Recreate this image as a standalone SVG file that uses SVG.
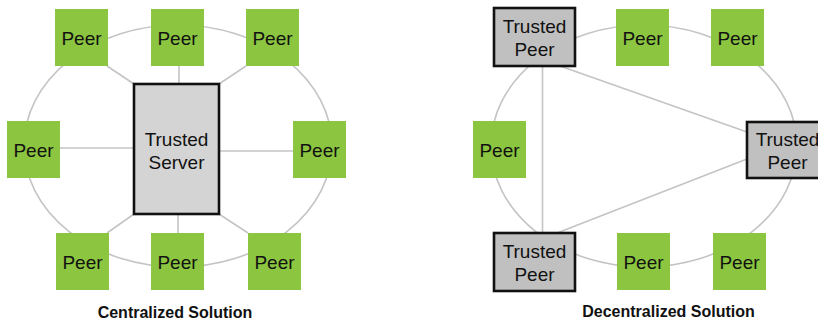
<svg xmlns="http://www.w3.org/2000/svg" width="818" height="320" viewBox="0 0 818 320">
  <style>
    .ring { fill: none; stroke: #c4c4c4; stroke-width: 1.6; }
    .link { stroke: #c4c4c4; stroke-width: 1.6; fill: none; }
    .peer rect { fill: #8cc540; }
    .trusted rect { stroke: #111; stroke-width: 2.6; }
    .server rect { fill: #d4d4d4; }
    .tpeer rect { fill: #c0c0c0; }
    text { font-family: "Liberation Sans", Arial, sans-serif; font-size: 19px; fill: #111; text-anchor: middle; }
    .title { font-size: 16px; font-weight: bold; }
  </style>
  <rect width="818" height="320" fill="#fff"/>

  <!-- Centralized: connectors -->
  <g id="central-links">
    <ellipse class="ring" cx="178" cy="146" rx="154" ry="121"/>
    <line class="link" x1="107" y1="66" x2="134" y2="84"/>
    <line class="link" x1="179" y1="66" x2="179" y2="84"/>
    <line class="link" x1="246" y1="66" x2="219" y2="84"/>
    <line class="link" x1="60" y1="148" x2="134" y2="148"/>
    <line class="link" x1="219" y1="151" x2="293" y2="151"/>
    <line class="link" x1="107" y1="233" x2="134" y2="214"/>
    <line class="link" x1="178" y1="214" x2="178" y2="233"/>
    <line class="link" x1="219" y1="214" x2="248" y2="233"/>
  </g>

  <!-- Centralized: nodes -->
  <g id="c-peer-1" class="peer"><rect x="55" y="9" width="53" height="57"/><text x="81.5" y="44.5">Peer</text></g>
  <g id="c-peer-2" class="peer"><rect x="151" y="9" width="53" height="57"/><text x="177.5" y="44.5">Peer</text></g>
  <g id="c-peer-3" class="peer"><rect x="246" y="9" width="53" height="57"/><text x="272.5" y="44.5">Peer</text></g>
  <g id="c-peer-4" class="peer"><rect x="7" y="121" width="53" height="57"/><text x="33.5" y="156.5">Peer</text></g>
  <g id="c-peer-5" class="peer"><rect x="293" y="121" width="53" height="57"/><text x="319.5" y="156.5">Peer</text></g>
  <g id="c-peer-6" class="peer"><rect x="56" y="233" width="53" height="57"/><text x="82.5" y="268.5">Peer</text></g>
  <g id="c-peer-7" class="peer"><rect x="151" y="233" width="53" height="57"/><text x="177.5" y="268.5">Peer</text></g>
  <g id="c-peer-8" class="peer"><rect x="248" y="233" width="53" height="57"/><text x="274.5" y="268.5">Peer</text></g>
  <g id="trusted-server" class="trusted server">
    <rect x="134" y="84" width="85" height="130"/>
    <text x="176.5" y="146">Trusted</text>
    <text x="176.5" y="168.5">Server</text>
  </g>
  <text class="title" x="175" y="318">Centralized Solution</text>

  <!-- Decentralized: connectors -->
  <g id="decentral-links">
    <ellipse class="ring" cx="644" cy="146" rx="153" ry="121"/>
    <line class="link" x1="542.5" y1="66" x2="542.5" y2="233"/>
    <line class="link" x1="560" y1="66" x2="747" y2="132"/>
    <line class="link" x1="557" y1="233" x2="747" y2="159"/>
  </g>

  <!-- Decentralized: nodes -->
  <g id="d-trusted-1" class="trusted tpeer">
    <rect x="494" y="8" width="81" height="58"/>
    <text x="534.5" y="32.5">Trusted</text>
    <text x="534.5" y="56">Peer</text>
  </g>
  <g id="d-peer-1" class="peer"><rect x="616" y="9" width="53" height="57"/><text x="642.5" y="44.5">Peer</text></g>
  <g id="d-peer-2" class="peer"><rect x="711" y="9" width="53" height="57"/><text x="737.5" y="44.5">Peer</text></g>
  <g id="d-peer-3" class="peer"><rect x="473" y="121" width="53" height="57"/><text x="499.5" y="156.5">Peer</text></g>
  <g id="d-trusted-2" class="trusted tpeer">
    <rect x="747" y="122" width="81" height="56"/>
    <text x="787.5" y="145.5">Trusted</text>
    <text x="787.5" y="168.5">Peer</text>
  </g>
  <g id="d-trusted-3" class="trusted tpeer">
    <rect x="494" y="233" width="81" height="58"/>
    <text x="534.5" y="257.5">Trusted</text>
    <text x="534.5" y="281">Peer</text>
  </g>
  <g id="d-peer-4" class="peer"><rect x="617" y="233" width="53" height="57"/><text x="643.5" y="268.5">Peer</text></g>
  <g id="d-peer-5" class="peer"><rect x="713" y="233" width="53" height="57"/><text x="739.5" y="268.5">Peer</text></g>
  <text class="title" x="668.5" y="317">Decentralized Solution</text>
</svg>
